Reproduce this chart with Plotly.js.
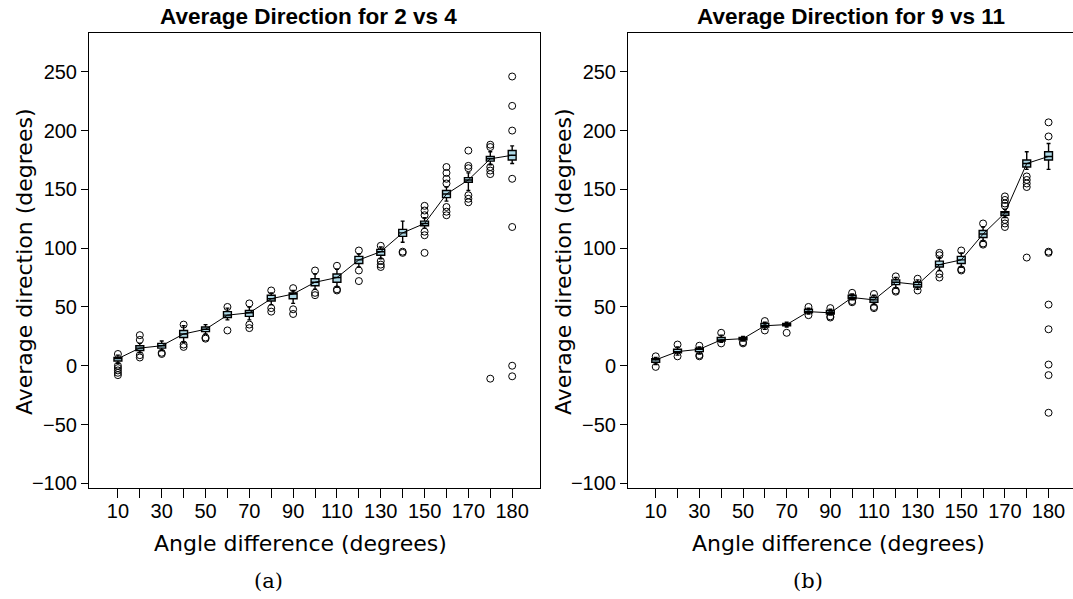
<!DOCTYPE html>
<html>
<head>
<meta charset="utf-8">
<script src="https://cdn.plot.ly/plotly-3.0.1.min.js"></script>
<style>html,body{margin:0;padding:0;background:#fff;}#chart{width:1073px;height:599px;}</style>
</head>
<body>
<div id="chart"></div>
<script>
// Categories (angle difference, degrees) and tick labels shown on the axis
const categories = ["10","20","30","40","50","60","70","80","90","100","110","120","130","140","150","160","170","175","180"];
const tickLabels = ["10","","30","","50","","70","","90","","110","","130","","150","","170","","180"];

// Panel (a): Average Direction for 2 vs 4
const aMedian = [6, 15, 17, 27, 31, 43, 45, 57, 61, 71, 75, 90, 97, 113, 121, 146, 158, 176, 179];
const aQ1     = [4, 13, 15, 24, 29, 41, 42, 55, 57, 68, 71, 87, 94, 110, 119, 143, 156, 174, 175];
const aQ3     = [7, 17, 19, 30, 33, 46, 47, 60, 62, 74, 78, 93, 99, 116, 123, 149, 160, 178, 183];
const aLow    = [2, 11, 13, 20, 27, 39, 39, 52, 53, 65, 67, 84, 91, 105, 117, 140, 149, 171, 172];
const aHigh   = [9, 19, 21, 34, 35, 49, 50, 62, 64, 78, 82, 95, 101, 123, 126, 152, 164, 182, 187];
const aOutliers = [
  [10, 0, -2, -4, -6, -8],
  [26, 22, 9, 7],
  [11, 10],
  [35, 18, 16],
  [24, 23],
  [50, 30],
  [53, 35, 32],
  [64, 49, 46],
  [66, 48, 44],
  [81, 62, 60],
  [85, 65, 64],
  [98, 81, 72],
  [102, 89, 86, 84],
  [97, 96],
  [136, 132, 128, 114, 111, 96],
  [169, 164, 159, 155, 135, 131, 128],
  [183, 170, 168, 145, 142, 139],
  [188, 186, 169, 166, 163, -11],
  [246, 221, 200, 159, 118, 0, -9]
];

// Panel (b): Average Direction for 9 vs 11
const bMedian = [5, 12, 14, 22, 23, 34, 35, 46, 45, 58, 56, 71, 69, 86, 90, 112, 130, 172, 178];
const bQ1     = [3, 11, 12, 21, 22, 33, 34, 45, 44, 57, 54, 69, 67, 84, 87, 109, 128, 169, 175];
const bQ3     = [6, 14, 15, 24, 24, 36, 36, 48, 47, 60, 58, 73, 71, 89, 93, 115, 131, 175, 182];
const bLow    = [1, 9, 10, 20, 21, 31, 33, 44, 43, 56, 52, 66, 65, 81, 84, 106, 126, 167, 167];
const bHigh   = [7, 16, 16, 26, 25, 37, 37, 49, 48, 61, 60, 75, 73, 92, 96, 118, 133, 182, 189];
const bOutliers = [
  [8, -1],
  [18, 8],
  [17, 9, 8],
  [28, 19],
  [20, 19],
  [38, 30],
  [28],
  [50, 43],
  [49, 42, 41],
  [62, 55, 54],
  [61, 50, 49],
  [76, 64, 63],
  [74, 64],
  [96, 94, 78, 75],
  [98, 82, 81],
  [121, 104, 103],
  [144, 141, 138, 136, 124, 121, 118],
  [161, 158, 155, 152, 92],
  [207, 195, 97, 96, 52, 31, 1, -8, -40]
];

const titles = ["Average Direction for 2 vs 4", "Average Direction for 9 vs 11"];
const captions = ["(a)", "(b)"];
const xTitle = "Angle difference (degrees)";
const yTitle = "Average direction (degrees)";

function flatten(outl) {
  const xs = [], ys = [];
  outl.forEach((arr, i) => arr.forEach(v => { xs.push(categories[i]); ys.push(v); }));
  return {xs, ys};
}

function panelTraces(med, q1, q3, lo, hi, outl, xa, ya) {
  const o = flatten(outl);
  return [
    {
      type: 'box', orientation: 'v', x: categories, q1: q1, median: med, q3: q3,
      lowerfence: lo, upperfence: hi, xaxis: xa, yaxis: ya,
      fillcolor: '#ADD8E6', line: {color: '#000', width: 1.4},
      width: 0.36, whiskerwidth: 0.5, boxpoints: false, hoverinfo: 'skip', showlegend: false
    },
    {
      type: 'scatter', mode: 'markers', x: o.xs, y: o.ys, xaxis: xa, yaxis: ya,
      marker: {symbol: 'circle-open', size: 7, color: '#000', line: {width: 1, color: '#000'}},
      hoverinfo: 'skip', showlegend: false
    },
    {
      type: 'scatter', mode: 'lines', x: categories, y: med, xaxis: xa, yaxis: ya,
      line: {color: '#000', width: 1}, hoverinfo: 'skip', showlegend: false
    }
  ];
}

const data = [].concat(
  panelTraces(aMedian, aQ1, aQ3, aLow, aHigh, aOutliers, 'x', 'y'),
  panelTraces(bMedian, bQ1, bQ3, bLow, bHigh, bOutliers, 'x2', 'y2')
);

const W = 1073, H = 599;
const yDom = [1 - 488 / H, 1 - 33 / H];
const tickFont = {family: 'Liberation Sans', size: 20, color: '#000'};
const titleFont = {family: 'DejaVu Sans', size: 22, color: '#000'};
const headFont = {family: 'Liberation Sans', size: 22.5, color: '#000'};
const capFont = {family: 'DejaVu Serif', size: 21, color: '#000'};

function xAxis(dom, range, anchor) {
  return {
    domain: dom, anchor: anchor, type: 'category', categoryorder: 'array', categoryarray: categories,
    range: range, tickmode: 'array', tickvals: categories, ticktext: tickLabels,
    ticks: 'outside', ticklen: 9, tickwidth: 1, tickcolor: '#000', ticklabelstandoff: -4,
    showline: true, mirror: true, linecolor: '#000', linewidth: 1,
    showgrid: false, zeroline: false, tickfont: tickFont
  };
}
function yAxis(anchor) {
  return {
    domain: yDom, anchor: anchor, range: [-104, 283], tickmode: 'linear', tick0: -100, dtick: 50,
    ticks: 'outside', ticklen: 7, tickwidth: 1, tickcolor: '#000',
    showline: true, mirror: true, linecolor: '#000', linewidth: 1,
    showgrid: false, zeroline: false, tickfont: tickFont
  };
}

function ann(text, x, y, font, angle) {
  return {text: text, xref: 'paper', yref: 'paper', x: x / W, y: 1 - y / H,
          xanchor: 'center', yanchor: 'middle', showarrow: false, font: font, textangle: angle || 0};
}

const layout = {
  width: W, height: H, margin: {l: 0, r: 0, t: 0, b: 0},
  paper_bgcolor: '#fff', plot_bgcolor: '#fff', showlegend: false,
  xaxis: xAxis([89 / W, 540 / W], [-1.32, 19.27], 'y'),
  yaxis: yAxis('x'),
  xaxis2: xAxis([628 / W, 1], [-1.27, 19.12], 'y2'),
  yaxis2: yAxis('x2'),
  annotations: [
    ann('<b>' + titles[0] + '</b>', 308, 16, headFont),
    ann('<b>' + titles[1] + '</b>', 851, 16, headFont),
    ann(xTitle, 300, 543, titleFont),
    ann(xTitle, 838, 543, titleFont),
    ann(yTitle, 24, 262, titleFont, -90),
    ann(yTitle, 563, 262, titleFont, -90),
    ann(captions[0], 268, 581, capFont),
    ann(captions[1], 808, 581, capFont)
  ]
};

Plotly.newPlot('chart', data, layout, {staticPlot: true, displayModeBar: false});
</script>
</body>
</html>
